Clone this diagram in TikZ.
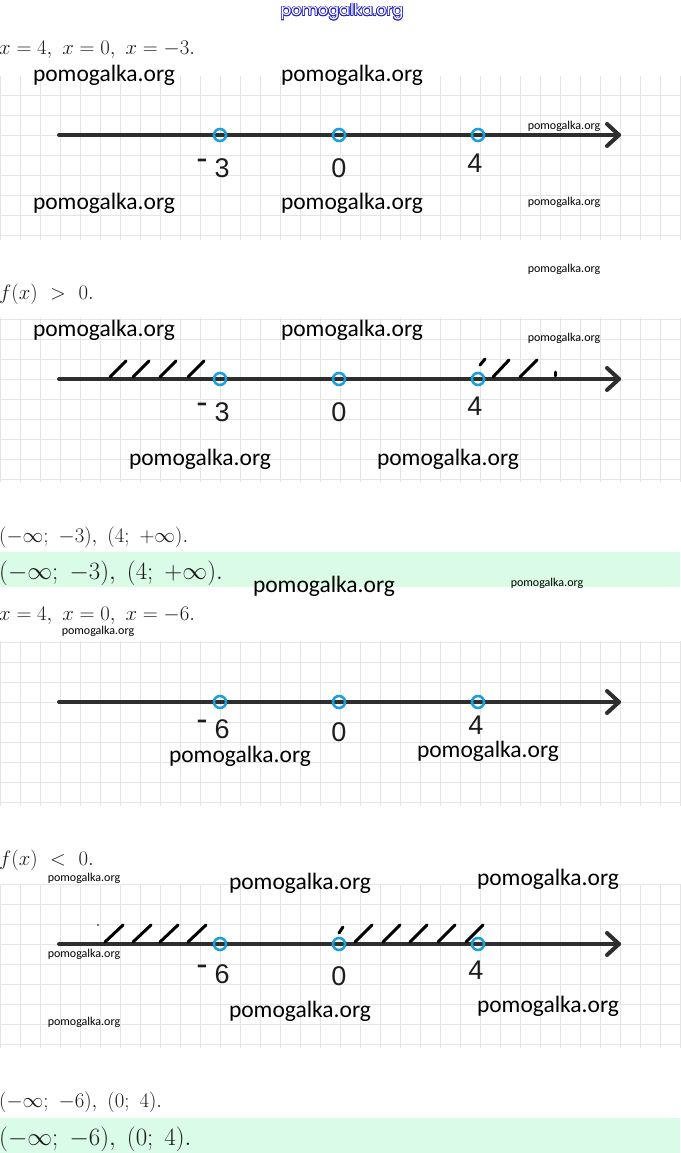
\documentclass[tikz,border=0pt]{standalone}
\usepackage{fontspec}
\newfontfamily\wmfont{Carlito}
\newfontfamily\topfont{Poppins}
\newfontfamily\numfont{Liberation Sans}
\definecolor{gridc}{HTML}{E4E4E4}
\definecolor{axisc}{HTML}{2E2E2E}
\definecolor{numc}{HTML}{1C1C1C}
\definecolor{ptc}{HTML}{1E9FDC}
\definecolor{bandc}{HTML}{DAFBE6}
\definecolor{topblue}{HTML}{2222C8}
\definecolor{mathc}{HTML}{1A1A1A}
\tikzset{
  gridline/.style={draw=gridc, line width=0.9pt},
  axis/.style={draw=axisc, line width=4pt, line cap=round},
  chevron/.style={draw=axisc, line width=4pt, line cap=round, line join=round},
  pt/.style={draw=ptc, line width=2.6pt},
  hatch/.style={draw=black, line width=3pt, line cap=round},
  wmbig/.style={font=\wmfont\fontsize{23.5}{24}\selectfont, text=black, inner sep=0pt},
  wmsmall/.style={font=\wmfont\fontsize{12}{12}\selectfont, text=black, inner sep=0pt},
  numlab/.style={font=\numfont\fontsize{27}{27}\selectfont, text=numc, inner sep=0pt},
  mtext/.style={font=\fontsize{22}{22}\selectfont, text=mathc, anchor=base west, inner sep=0pt},
  ftext/.style={font=\fontsize{22.5}{23}\selectfont, text=mathc, anchor=base west, inner sep=0pt},
  mtextb/.style={font=\fontsize{23}{23}\selectfont, text=mathc, anchor=base west, inner sep=0pt},
  topwm/.style={font=\topfont\fontsize{16}{16}\selectfont, inner sep=0pt}
}
\newcommand{\gridpanel}[2]{%
  \foreach \gx in {0,20,...,680} \draw[gridline] (\gx,#1) -- (\gx,#2);
}
\newcommand{\neglab}[1]{\raisebox{0.3em}{\fontsize{34}{34}\selectfont -}\hspace{0.25em}#1}
\begin{document}
\begin{tikzpicture}[x=1pt,y=-1pt]
\useasboundingbox (0,0) rectangle (680,1153);

% ---------- top outlined watermark ----------
\foreach \a in {0,30,...,330}
  \node[topwm, text=topblue] (tw\a) at ([shift={(\a:0.75)}]342,12) {pomogalka.org};
\node[topwm, text=white] (twc) at (342,12) {pomogalka.org};

% ---------- first text line ----------
\node[mtext] (t1) at (-1,55) {$x=4,\ x=0,\ x=-3.$};

% ---------- panel 1 grid ----------
\gridpanel{76}{240}
\foreach \gy in {95,115,...,235} \draw[gridline] (0,\gy) -- (680,\gy);

% ---------- panel 1 axis ----------
\coordinate (a1s) at (59,135);
\coordinate (a1e) at (619,135);
\draw[axis] (a1s) -- (a1e);
\draw[chevron] (607,124) -- (a1e) -- (607,146);
\draw[pt] (220,135) circle (6);
\draw[pt] (339,135) circle (6);
\draw[pt] (478,135) circle (6);
\node[numlab] (l1a) at (213,168) {\neglab{3}};
\node[numlab] (l1b) at (339,168) {0};
\node[numlab] (l1c) at (475,163) {4};

\node[wmbig] (w1) at (104,75) {pomogalka.org};
\node[wmbig] (w2) at (352,75) {pomogalka.org};
\node[wmbig] (w3) at (104,203) {pomogalka.org};
\node[wmbig] (w4) at (352,203) {pomogalka.org};
\node[wmsmall] (w5) at (564,126) {pomogalka.org};
\node[wmsmall] (w6) at (564,202) {pomogalka.org};
\node[wmsmall] (w7) at (564,269) {pomogalka.org};

% ---------- f(x) > 0 ----------
\node[ftext] (t2) at (-1,299) {$f(x)\ >\ 0.$};

% ---------- panel 2 ----------
\gridpanel{318}{482}
\foreach \gy in {319,339,...,479} \draw[gridline] (0,\gy) -- (680,\gy);
\coordinate (a2s) at (59,379);
\coordinate (a2e) at (619,379);
\draw[axis] (a2s) -- (a2e);
\draw[chevron] (607,368) -- (a2e) -- (607,390);
\foreach \b in {110,133,160,188} \draw[hatch] (\b,377) -- (\b+16,361);
\draw[hatch] (480,365) -- (485,359);
\draw[hatch] (493,377) -- (509,360);
\draw[hatch] (520,377) -- (537,360);
\draw[hatch] (555,372) -- (555,376);
\draw[pt] (220,379) circle (6);
\draw[pt] (339,379) circle (6);
\draw[pt] (478,379) circle (6);
\node[numlab] (l2a) at (213,412) {\neglab{3}};
\node[numlab] (l2b) at (339,412) {0};
\node[numlab] (l2c) at (475,406) {4};

\node[wmbig] (w8) at (104,330) {pomogalka.org};
\node[wmbig] (w9) at (352,330) {pomogalka.org};
\node[wmsmall] (w10) at (564,338) {pomogalka.org};
\node[wmbig] (w11) at (200,459) {pomogalka.org};
\node[wmbig] (w12) at (448,459) {pomogalka.org};

% ---------- answer 1 ----------
\node[mtext] (t3) at (-1,542) {$(-\infty;\ -3),\ (4;\ +\infty).$};
\fill[bandc] (0,552) rectangle (680,587);
\node[mtextb] (t4) at (-1,579) {$(-\infty;\ -3),\ (4;\ +\infty).$};
\node[wmbig] (w13) at (324,586) {pomogalka.org};
\node[wmsmall] (w14) at (547,583) {pomogalka.org};

% ---------- second problem ----------
\node[mtext] (t5) at (-1,620) {$x=4,\ x=0,\ x=-6.$};
\node[wmsmall] (w15) at (98,631) {pomogalka.org};

\gridpanel{641}{806}
\foreach \gy in {642,662,...,802} \draw[gridline] (0,\gy) -- (680,\gy);
\coordinate (a3s) at (59,702);
\coordinate (a3e) at (619,702);
\draw[axis] (a3s) -- (a3e);
\draw[chevron] (607,691) -- (a3e) -- (607,713);
\draw[pt] (220,702) circle (6);
\draw[pt] (339,702) circle (6);
\draw[pt] (478,702) circle (6);
\node[numlab] (l3a) at (213,729) {\neglab{6}};
\node[numlab] (l3b) at (339,732) {0};
\node[numlab] (l3c) at (476,725) {4};
\node[wmbig] (w16) at (240,756) {pomogalka.org};
\node[wmbig] (w17) at (488,751) {pomogalka.org};

% ---------- f(x) < 0 ----------
\node[ftext] (t6) at (-1,865) {$f(x)\ <\ 0.$};
\node[wmsmall] (w18) at (84,878) {pomogalka.org};

\gridpanel{884}{1048}
\foreach \gy in {884,904,...,1044} \draw[gridline] (0,\gy) -- (680,\gy);
\coordinate (a4s) at (59,944);
\coordinate (a4e) at (619,944);
\draw[axis] (a4s) -- (a4e);
\draw[chevron] (607,933) -- (a4e) -- (607,955);
\fill[black] (98,925) circle (0.8);
\foreach \b in {105,133,160,188} \draw[hatch] (\b,942) -- (\b+18,925);
\draw[hatch] (339,933) -- (343,927);
\foreach \b in {355,383,410,438,466} \draw[hatch] (\b,942) -- (\b+17,925);
\draw[pt] (220,944) circle (6);
\draw[pt] (339,944) circle (6);
\draw[pt] (478,944) circle (6);
\node[numlab] (l4a) at (213,974) {\neglab{6}};
\node[numlab] (l4b) at (339,976) {0};
\node[numlab] (l4c) at (476,970) {4};

\node[wmbig] (w19) at (300,883) {pomogalka.org};
\node[wmbig] (w20) at (548,879) {pomogalka.org};
\node[wmsmall] (w21) at (84,954) {pomogalka.org};
\node[wmbig] (w22) at (300,1011) {pomogalka.org};
\node[wmbig] (w23) at (548,1006) {pomogalka.org};
\node[wmsmall] (w24) at (84,1022) {pomogalka.org};

% ---------- answer 2 ----------
\node[mtext] (t7) at (-1,1107) {$(-\infty;\ -6),\ (0;\ 4).$};
\fill[bandc] (0,1118) rectangle (680,1153);
\node[mtextb] (t8) at (-1,1145) {$(-\infty;\ -6),\ (0;\ 4).$};
\end{tikzpicture}
\end{document}
